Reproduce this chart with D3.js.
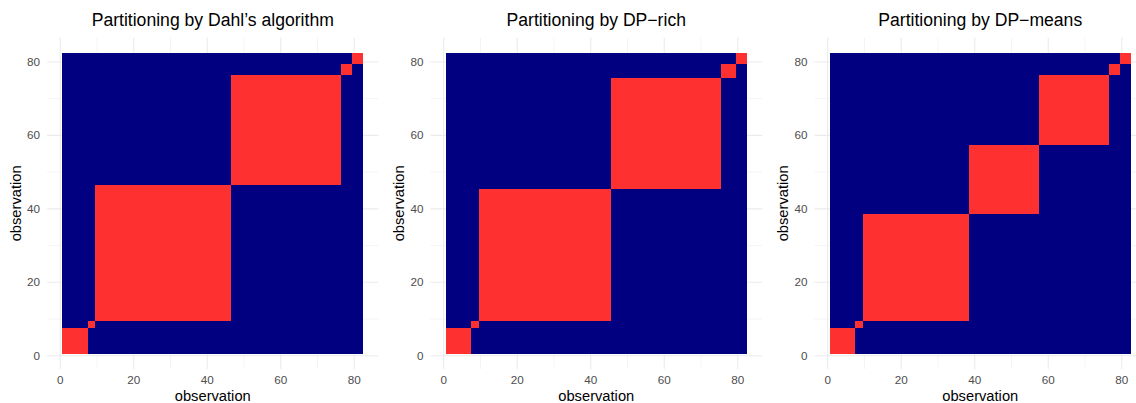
<!DOCTYPE html>
<html>
<head>
<meta charset="utf-8">
<script src="https://cdn.jsdelivr.net/npm/d3@7"></script>
<style>
  body { margin: 0; background: #fff; }
  text { font-family: "Liberation Sans", Arial, sans-serif; }
</style>
</head>
<body>
<div class="canvas"></div>
<script>
// number of observations and the cluster sizes (in order) found by each method
const nObs = 82;
const titles = ["Partitioning by Dahl\u2019s algorithm", "Partitioning by DP\u2212rich", "Partitioning by DP\u2212means"];
const dahlSizes = [7, 2, 37, 30, 3, 3];
const richSizes = [7, 2, 36, 30, 4, 3];
const meansSizes = [7, 2, 29, 19, 19, 3, 3];
const majorTicks = [0, 20, 40, 60, 80];
const minorTicks = [10, 30, 50, 70];

const dims = {width: 1136, height: 403};
const panel = {w: 331.5, top: 37.7, bottom: 369};
const lefts = [47, 430.5, 814.5];
const colors = {same: '#FF3030', diff: '#000080', grid: '#EBEBEB', tick: '#4D4D4D'};

const svg = d3.select('.canvas')
    .append('svg').attr('width', dims.width).attr('height', dims.height);

// turn cluster sizes into a label per observation
const labelsFrom = sizes => {
    const out = [];
    sizes.forEach((s, k) => { for (let i = 0; i < s; i++) out.push(k); });
    return out;
};

const drawPanel = (sizes, title, left) => {
    const labels = labelsFrom(sizes);
    const x = d3.scaleLinear().domain([-3.6, 86.6]).range([left, left + panel.w]);
    const y = d3.scaleLinear().domain([-3.6, 86.6]).range([panel.bottom, panel.top]);
    const g = svg.append('g');

    // grid
    minorTicks.forEach(t => {
        g.append('line').attr('x1', x(t)).attr('x2', x(t)).attr('y1', panel.top).attr('y2', panel.bottom)
            .attr('stroke', colors.grid).attr('stroke-width', 0.55);
        g.append('line').attr('y1', y(t)).attr('y2', y(t)).attr('x1', left).attr('x2', left + panel.w)
            .attr('stroke', colors.grid).attr('stroke-width', 0.55);
    });
    majorTicks.forEach(t => {
        g.append('line').attr('x1', x(t)).attr('x2', x(t)).attr('y1', panel.top).attr('y2', panel.bottom)
            .attr('stroke', colors.grid).attr('stroke-width', 1.1);
        g.append('line').attr('y1', y(t)).attr('y2', y(t)).attr('x1', left).attr('x2', left + panel.w)
            .attr('stroke', colors.grid).attr('stroke-width', 1.1);
    });

    // co-clustering cells
    const cells = [];
    for (let i = 1; i <= nObs; i++) {
        for (let j = 1; j <= nObs; j++) {
            cells.push({i, j, same: labels[i - 1] === labels[j - 1]});
        }
    }
    g.append('g').attr('shape-rendering', 'crispEdges')
        .selectAll('rect').data(cells).enter().append('rect')
        .attr('x', d => x(d.i - 0.5))
        .attr('y', d => y(d.j + 0.5))
        .attr('width', d => x(d.i + 0.5) - x(d.i - 0.5))
        .attr('height', d => y(d.j - 0.5) - y(d.j + 0.5))
        .attr('fill', d => d.same ? colors.same : colors.diff);

    // tick labels
    g.selectAll('.xt').data(majorTicks).enter().append('text')
        .attr('x', d => x(d)).attr('y', panel.bottom + 15)
        .attr('text-anchor', 'middle').attr('font-size', 11.7).attr('fill', colors.tick)
        .text(d => d);
    g.selectAll('.yt').data(majorTicks).enter().append('text')
        .attr('x', left - 7).attr('y', d => y(d)).attr('dy', '0.35em')
        .attr('text-anchor', 'end').attr('font-size', 11.7).attr('fill', colors.tick)
        .text(d => d);

    // axis titles and panel title
    g.append('text').attr('x', left + panel.w / 2).attr('y', 400.5)
        .attr('text-anchor', 'middle').attr('font-size', 14.7).attr('fill', '#000')
        .text('observation');
    const cy = (panel.top + panel.bottom) / 2;
    g.append('text').attr('transform', `translate(${left - 26.5},${cy}) rotate(-90)`)
        .attr('text-anchor', 'middle').attr('font-size', 14.7).attr('fill', '#000')
        .text('observation');
    g.append('text').attr('x', left + panel.w / 2).attr('y', 26)
        .attr('text-anchor', 'middle').attr('font-size', 17.6).attr('fill', '#000')
        .text(title);
};

[dahlSizes, richSizes, meansSizes].forEach((s, k) => drawPanel(s, titles[k], lefts[k]));
</script>
</body>
</html>
